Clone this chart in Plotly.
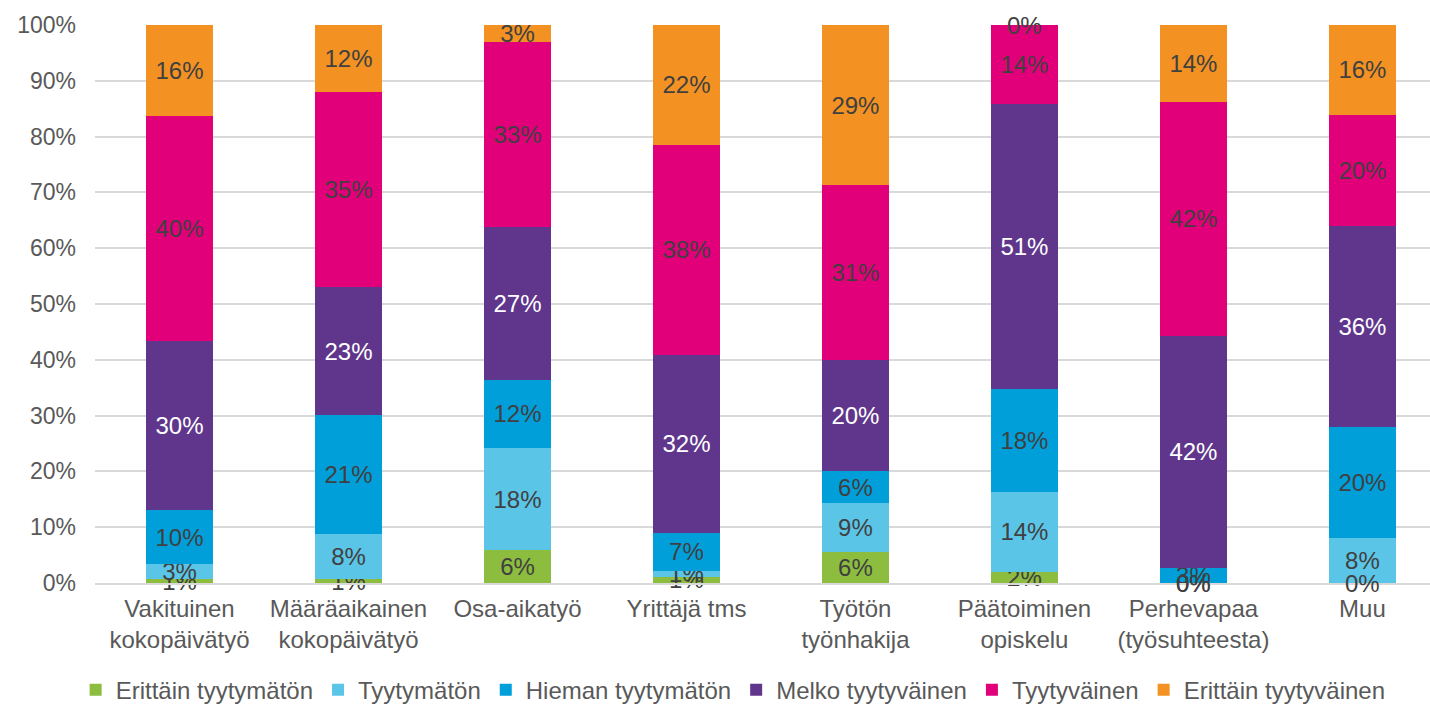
import plotly.graph_objects as go

categories = ["Vakituinen<br>kokopäivätyö", "Määräaikainen<br>kokopäivätyö", "Osa-aikatyö",
              "Yrittäjä tms", "Työtön<br>työnhakija", "Päätoiminen<br>opiskelu",
              "Perhevapaa<br>(työsuhteesta)", "Muu"]

erittain_tyytymaton = [0.7, 0.7, 5.9, 1.1, 5.6, 2.0, 0.0, 0.0]
tyytymaton = [2.7, 8.1, 18.3, 1.1, 8.7, 14.3, 0.0, 8.1]
hieman_tyytymaton = [9.6, 21.3, 12.2, 6.8, 5.8, 18.5, 2.7, 19.9]
melko_tyytyvainen = [30.3, 22.9, 27.4, 31.9, 19.9, 51.0, 41.6, 36.0]
tyytyvainen = [40.4, 35.0, 33.2, 37.6, 31.3, 14.2, 41.9, 19.9]
erittain_tyytyvainen = [16.3, 12.0, 3.0, 21.5, 28.7, 0.0, 13.8, 16.1]

series = [
    ("Erittäin tyytymätön", erittain_tyytymaton, "#8DBD3F", "#404040"),
    ("Tyytymätön", tyytymaton, "#5BC5E8", "#404040"),
    ("Hieman tyytymätön", hieman_tyytymaton, "#009FDA", "#404040"),
    ("Melko tyytyväinen", melko_tyytyvainen, "#5F368C", "#FFFFFF"),
    ("Tyytyväinen", tyytyvainen, "#E2007A", "#404040"),
    ("Erittäin tyytyväinen", erittain_tyytyvainen, "#F39222", "#404040"),
]

FONT = "Liberation Sans, Arial, sans-serif"
LBL = 24
fig = go.Figure()
base = [0.0] * len(categories)
annotations = []
for name, vals, color, tcolor in series:
    xs = list(range(len(categories)))
    fig.add_trace(go.Bar(
        name=name, x=xs, y=vals,
        marker=dict(color=color, line=dict(width=0)),
        text=[f"{round(v):d}%" for v in vals],
        textposition="inside", insidetextanchor="middle", textangle=0,
        textfont=dict(family=FONT, size=LBL, color=tcolor),
        constraintext="none", cliponaxis=False,
    ))
    # zero-height segments still carry a "0%" label in the reference
    for i, v in enumerate(vals):
        if v == 0:
            annotations.append(dict(x=i, y=base[i], xref="x", yref="y", text="0%",
                                    showarrow=False, yanchor="middle",
                                    font=dict(family=FONT, size=LBL, color="#404040")))
        base[i] += v

fig.update_layout(
    barmode="stack", bargap=0.6,
    width=1430, height=705,
    margin=dict(l=95, r=0, t=25, b=122, autoexpand=False),
    paper_bgcolor="white", plot_bgcolor="white",
    font=dict(family=FONT, size=24, color="#595959"),
    uniformtext=dict(minsize=LBL, mode="show"),
    annotations=annotations,
    legend=dict(orientation="h", x=0.478, xanchor="center", y=-0.192, yanchor="middle",
                font=dict(size=24, color="#595959"), itemwidth=30, traceorder="normal"),
    showlegend=True,
)
fig.update_xaxes(tickvals=list(range(len(categories))), ticktext=categories,
                 range=[-0.5, 7.4], showgrid=False, showline=True,
                 linecolor="#D9D9D9", linewidth=1.5, ticks="", automargin=False,
                 ticklabelstandoff=3,
                 tickfont=dict(size=24, color="#595959"))
fig.update_yaxes(range=[0, 100], dtick=10, ticksuffix="%", showgrid=True,
                 gridcolor="#D9D9D9", gridwidth=1.5, zeroline=False, automargin=False,
                 tickfont=dict(size=23, color="#595959"), ticklabelstandoff=18)

fig.write_html("out.html", config={"displayModeBar": False},
               post_script="document.body.style.margin='0';document.body.style.overflow='hidden';")
